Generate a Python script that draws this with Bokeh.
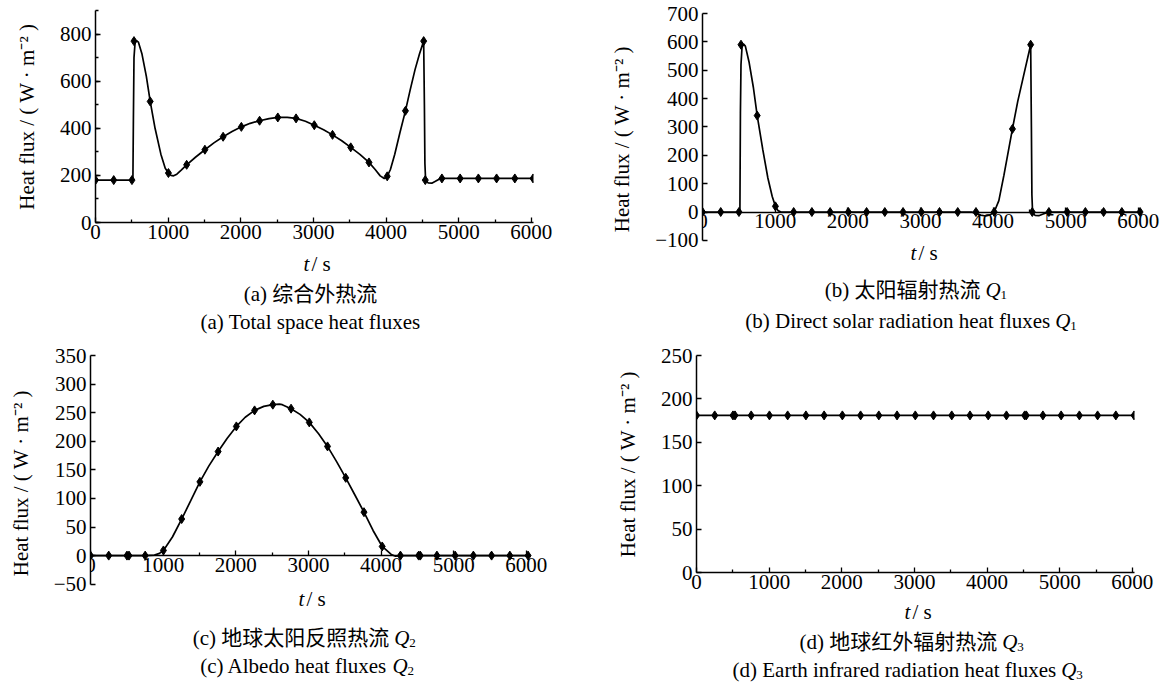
from bokeh.plotting import figure
from bokeh.models import Label, Range1d, SingleIntervalTicker, FixedTicker, CustomJSTickFormatter
from bokeh.layouts import column, row
from bokeh.embed import file_html
from bokeh.resources import INLINE

# ---------------- data ----------------
T_MARK = [0, 251, 502, 530, 753, 1004, 1255, 1506, 1757, 2008, 2259, 2510, 2761,
          3012, 3263, 3514, 3765, 4016, 4267, 4518, 4540, 4769, 5020, 5271, 5522,
          5773, 6024]
Q_TOTAL = [180, 180, 180, 770, 514, 210, 245, 309, 364, 406, 432, 446, 442,
           413, 372, 319, 255, 196, 474, 770, 180, 187, 187, 187, 187, 187, 187]
Q1_SOLAR = [0, 0, 0, 590, 340, 20, 0, 0, 0, 0, 0, 0, 0,
            0, 0, 0, 0, 0, 293, 590, 0, 0, 0, 0, 0, 0, 0]
Q2_ALBEDO = [0, 0, 0, 0, 0, 9, 64, 129, 182, 226, 254, 264, 257,
             233, 191, 136, 76, 16, 0, 0, 0, 0, 0, 0, 0, 0, 0]
Q3_IR = [181] * len(T_MARK)

LINE_A_T = [0, 251, 502, 515, 522, 530, 545, 565, 590, 640, 700, 753, 820, 900, 960,
            1004, 1040, 1075, 1120, 1180, 1255, 1380, 1506, 1630, 1757, 1880, 2008,
            2130, 2259, 2390, 2510, 2640, 2761, 2890, 3012, 3140, 3263, 3390, 3514,
            3640, 3765, 3850, 3920, 3975, 4016, 4060, 4120, 4190, 4267, 4330, 4400,
            4460, 4518, 4528, 4535, 4545, 4580, 4630, 4680, 4730, 4769, 6024]
LINE_A_Q = [180, 180, 180, 182, 450, 700, 765, 772, 766, 715, 620, 514, 400, 290, 230,
            210, 200, 198, 205, 222, 245, 278, 309, 338, 364, 386, 406,
            421, 432, 441, 446, 446, 442, 430, 413, 394, 372, 347, 319,
            289, 255, 225, 198, 187, 196, 225, 290, 380, 474, 560, 650,
            715, 770, 500, 250, 178, 168, 167, 175, 184, 187, 187]

LINE_B_T = [0, 502, 515, 522, 530, 545, 565, 590, 640, 700, 753, 830, 900, 960, 1004,
            1040, 1080, 3700, 3760, 3830, 3900, 3960, 4016, 4080, 4150, 4267, 4340,
            4420, 4518, 4528, 4535, 4545, 4580, 4630, 4690, 4740, 4769, 6024]
LINE_B_Q = [0, 0, 0, 350, 520, 585, 592, 585, 530, 440, 340, 220, 120, 55, 20,
            5, 0, 0, -4, -11, -14, -10, 0, 40, 130, 293, 390,
            480, 590, 300, 60, -5, -12, -13, -7, -2, 0, 0]

LINE_C_T = [0, 753, 880, 950, 1004, 1130, 1255, 1380, 1506, 1630, 1757, 1880, 2008,
            2130, 2259, 2385, 2510, 2600, 2640, 2761, 2885, 3012, 3140, 3263, 3390,
            3514, 3640, 3765, 3890, 4016, 4140, 4200, 4267, 6024]
LINE_C_Q = [0, 0, 1, 4, 9, 33, 64, 96, 129, 157, 182, 205, 226,
            242, 254, 261, 264, 265, 264, 257, 247, 233, 213, 191, 164,
            136, 106, 76, 44, 16, 2, -1, 0, 0]

LINE_D_T = [0, 6024]
LINE_D_Q = [181, 181]

X_TICKS = [0, 1000, 2000, 3000, 4000, 5000, 6000]
X_MINOR = [500, 1500, 2500, 3500, 4500, 5500]
X_AXIS_END = 6030
Y_LABEL = "Heat flux / ( W · m⁻² )"

FONT = "Liberation Serif, Noto Sans CJK SC"
FS = "21px"

MINUS = CustomJSTickFormatter(code="return tick < 0 ? '\u2212' + (-tick) : String(tick);")


def label(p, x, y, text, align="center", style="normal", size=FS, dx=0):
    p.add_layout(Label(x=x, y=y, text=text,
                       text_font=FONT, text_font_size=size, text_font_style=style,
                       text_color="black", text_align=align, text_baseline="middle",
                       x_offset=dx))


def axis_title(p, y):
    label(p, 3000, y, "t", align="right", style="italic", dx=-4)
    label(p, 3000, y, "/ s", align="left", dx=-2)


def make_plot(width, height, xr, yr, ybounds, ystep, yminor, borders,
              line_t, line_q, mark_q, axis_at_zero=False, xlab_y=None):
    bl, br, bt, bb = borders
    p = figure(width=width, height=height, x_range=Range1d(*xr),
               y_range=Range1d(*yr), output_backend="svg", toolbar_location=None,
               min_border_left=bl, min_border_right=br, min_border_top=bt,
               min_border_bottom=bb)
    p.outline_line_color = None
    p.xgrid.visible = False
    p.ygrid.visible = False
    p.background_fill_color = "white"
    p.border_fill_color = "white"

    p.xaxis.ticker = FixedTicker(ticks=X_TICKS, minor_ticks=X_MINOR)
    p.yaxis.ticker = SingleIntervalTicker(interval=ystep, num_minor_ticks=yminor)
    p.yaxis.formatter = MINUS
    p.yaxis.bounds = ybounds
    p.xaxis.bounds = (0, X_AXIS_END)
    for ax in p.axis:
        ax.axis_line_color = "black"
        ax.axis_line_width = 1.5
        ax.major_tick_in = 5
        ax.major_tick_out = 0
        ax.minor_tick_in = 3
        ax.minor_tick_out = 0
        ax.major_tick_line_color = "black"
        ax.minor_tick_line_color = "black"
        ax.major_tick_line_width = 1.3
        ax.minor_tick_line_width = 1.3
        ax.major_label_text_font = FONT
        ax.major_label_text_font_size = FS
        ax.major_label_text_color = "black"
    p.xaxis.major_label_standoff = 2
    p.yaxis.major_label_standoff = 4
    p.yaxis.axis_label = Y_LABEL
    p.yaxis.axis_label_text_font = FONT
    p.yaxis.axis_label_text_font_size = FS
    p.yaxis.axis_label_text_font_style = "normal"
    p.yaxis.axis_label_text_color = "black"
    p.yaxis.axis_label_standoff = 18
    if axis_at_zero:
        p.xaxis.fixed_location = 0

    p.line(line_t, line_q, line_color="black", line_width=1.7)
    p.scatter(T_MARK, mark_q, marker="diamond", size=9, fill_color="black",
              line_color="black")
    if xlab_y is not None:
        axis_title(p, xlab_y)
    return p


def make_caption(plot, width, height, xlab_y, captions):
    """Caption strip under a panel: same frame and x scale as the panel, y in px from top."""
    c = figure(width=width, height=height,
               x_range=Range1d(plot.x_range.start, plot.x_range.end),
               y_range=Range1d(height, 0), output_backend="svg", toolbar_location=None,
               x_axis_type=None, y_axis_type=None,
               min_border_left=plot.min_border_left, min_border_right=plot.min_border_right,
               min_border_top=0, min_border_bottom=0)
    c.outline_line_color = None
    c.xgrid.visible = False
    c.ygrid.visible = False
    if xlab_y is not None:
        axis_title(c, xlab_y)
    for text, sub, xpos, ypos in captions:
        if sub is None:
            label(c, xpos, ypos, text)
        else:
            label(c, xpos, ypos, text, align="right", dx=-5)
            label(c, xpos, ypos, "Q", align="left", style="italic")
            label(c, xpos, ypos + 5, sub, align="left", size="13px", dx=15)
    return c


pa = make_plot(590, 249, (0, 6030), (0, 900), (0, 900), 200, 2, (95, 57, 10, 27),
               LINE_A_T, LINE_A_Q, Q_TOTAL)
ca = make_caption(pa, 590, 91, 14,
                  [("(a) 综合外热流", None, 2960, 44),
                   ("(a) Total space heat fluxes", None, 2960, 72)])

pb = make_plot(576, 264, (0, 6388), (-185, 700), (-100, 700), 100, 0, (112, 0, 13, 0),
               LINE_B_T, LINE_B_Q, Q1_SOLAR, axis_at_zero=True, xlab_y=-146)
cb = make_caption(pb, 576, 76, None,
                  [("(b) 太阳辐射热流", "1", 3897, 25),
                   ("(b) Direct solar radiation heat fluxes", "1", 4856, 56)])

pc = make_plot(590, 270, (0, 6677), (-96, 350), (-50, 350), 50, 0, (90, 15, 15, 0),
               LINE_C_T, LINE_C_Q, Q2_ALBEDO, axis_at_zero=True, xlab_y=-76)
cc = make_caption(pc, 590, 73, None,
                  [("(c) 地球太阳反照热流", "2", 4182, 27),
                   ("(c) Albedo heat fluxes", "2", 4156, 55)])

pd = make_plot(576, 259, (0, 6030), (0, 250), (0, 250), 50, 0, (106, 32, 15, 27),
               LINE_D_T, LINE_D_Q, Q3_IR)
cd = make_caption(pd, 576, 84, 12,
                  [("(d) 地球红外辐射热流", "3", 4208, 42),
                   ("(d) Earth infrared radiation heat fluxes", "3", 5020, 70)])

layout = column(row(column(pa, ca), column(pb, cb)),
                row(column(pc, cc), column(pd, cd)))
open("out.html", "w").write(file_html(layout, INLINE))
